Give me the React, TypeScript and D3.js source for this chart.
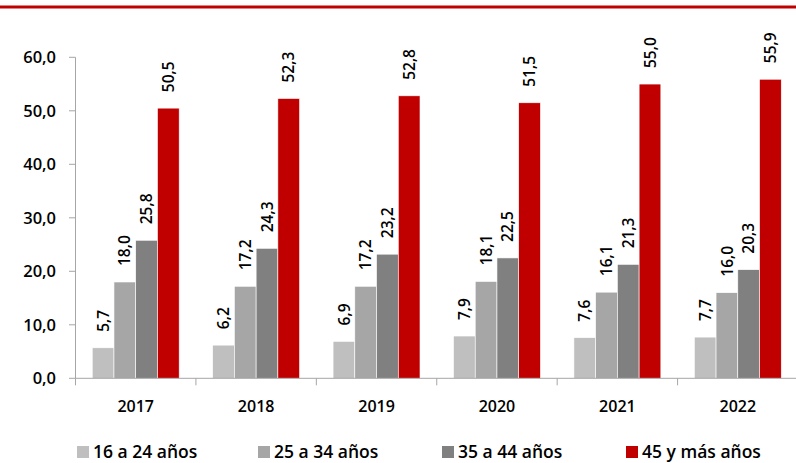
import React from "react";
import * as d3 from "d3";

const years = ["2017", "2018", "2019", "2020", "2021", "2022"];
const seriesNames = ["16 a 24 años", "25 a 34 años", "35 a 44 años", "45 y más años"];
const s16_24 = [5.7, 6.2, 6.9, 7.9, 7.6, 7.7];
const s25_34 = [18.0, 17.2, 17.2, 18.1, 16.1, 16.0];
const s35_44 = [25.8, 24.3, 23.2, 22.5, 21.3, 20.3];
const s45 = [50.5, 52.3, 52.8, 51.5, 55.0, 55.9];
const yTicks = [0, 10, 20, 30, 40, 50, 60];
const colors = ["#BFBFBF", "#A6A6A6", "#808080", "#C00000"];

const W = 796;
const H = 463;
const font = "'Open Sans', 'Noto Sans', sans-serif";

export default function App() {
  const series = [s16_24, s25_34, s35_44, s45];
  const x0 = d3.scaleBand<string>().domain(years).range([75.5, 798]).padding(0);
  const bw = x0.bandwidth();
  const pad = 0.139 * bw;
  const x1 = d3
    .scaleBand<string>()
    .domain(seriesNames)
    .range([pad, bw - pad])
    .padding(0);
  const y = d3.scaleLinear().domain([0, 60]).range([378.3, 57.3]);
  const fmt = (v: number) => v.toFixed(1).replace(".", ",");

  const legendX = [77, 258, 442, 626];

  return (
    <svg
      width={W}
      height={H}
      style={{ position: "absolute", left: 0, top: 0, background: "#fff" }}
      fontFamily={font}
    >
      <rect x={0} y={5.5} width={W} height={3} fill="#C00000" />

      {/* y axis */}
      <line x1={75.5} x2={75.5} y1={y(60)} y2={y(0)} stroke="#A6A6A6" strokeWidth={1} />
      {yTicks.map((t) => (
        <g key={t}>
          <line x1={69} x2={75.5} y1={y(t)} y2={y(t)} stroke="#A6A6A6" />
          <text
            x={56}
            y={y(t)}
            dy="0.36em"
            textAnchor="end"
            fontSize={16.5}
            fontWeight={600}
            fill="#000"
          >
            {fmt(t)}
          </text>
        </g>
      ))}

      {/* bars */}
      {years.map((yr, i) => (
        <g key={yr} transform={`translate(${x0(yr)},0)`}>
          {seriesNames.map((s, j) => {
            const v = series[j][i];
            const bx = x1(s)!;
            const by = y(v);
            return (
              <g key={s}>
                <rect
                  x={bx}
                  y={by}
                  width={x1.bandwidth()}
                  height={y(0) - by}
                  fill={colors[j]}
                  stroke="#fff"
                  strokeWidth={0.6}
                />
                <text
                  transform={`translate(${bx + x1.bandwidth() / 2},${by - 16}) rotate(-90)`}
                  dy="0.36em"
                  textAnchor="start"
                  fontSize={15.5}
                  fontWeight={600}
                  fill="#000"
                >
                  {fmt(v)}
                </text>
              </g>
            );
          })}
        </g>
      ))}

      {/* x axis */}
      <line x1={75.5} x2={W} y1={y(0)} y2={y(0)} stroke="#A6A6A6" strokeWidth={1} />
      {years.map((yr) => (
        <line
          key={"t" + yr}
          x1={x0(yr)!}
          x2={x0(yr)!}
          y1={y(0)}
          y2={y(0) + 7}
          stroke="#A6A6A6"
        />
      ))}
      {years.map((yr) => (
        <text
          key={"l" + yr}
          x={x0(yr)! + bw / 2}
          y={412}
          textAnchor="middle"
          fontSize={16}
          fontWeight={600}
          fill="#000"
        >
          {yr}
        </text>
      ))}

      {/* legend */}
      {seriesNames.map((s, j) => (
        <g key={"lg" + s} transform={`translate(${legendX[j]},0)`}>
          <rect x={0} y={446} width={12} height={12} fill={colors[j]} />
          <text x={16} y={458} fontSize={17.5} fontWeight={600} fill="#000">
            {s}
          </text>
        </g>
      ))}
    </svg>
  );
}
